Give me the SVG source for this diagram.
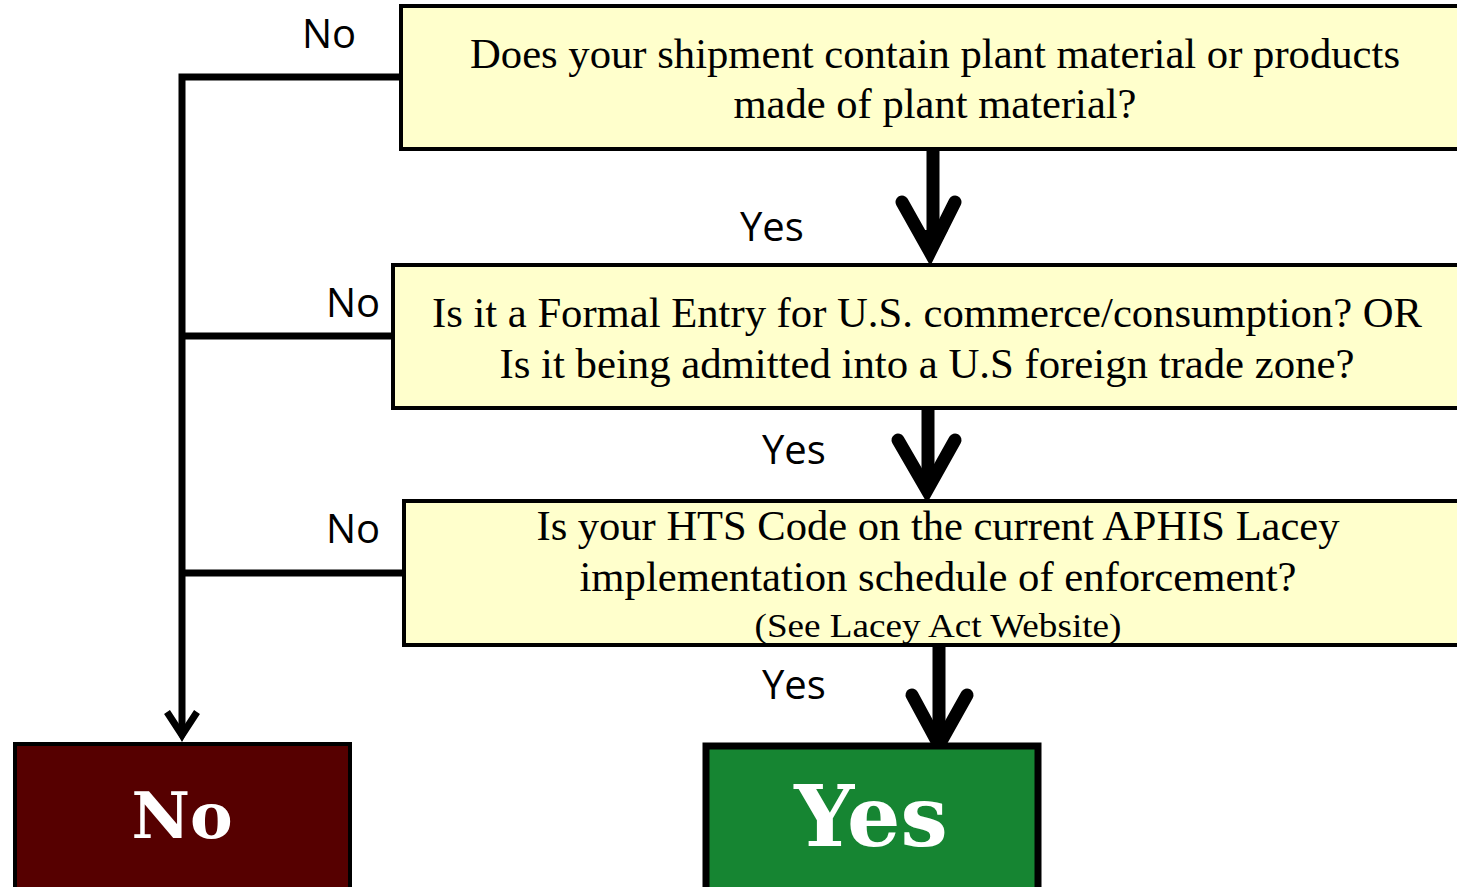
<svg xmlns="http://www.w3.org/2000/svg" width="1457" height="887" viewBox="0 0 1457 887">
<style>
.q{fill:#FFFFCC;stroke:#000;stroke-width:4}
.qt{font-family:"Liberation Serif","Times New Roman",serif;font-size:42px;fill:#000;text-anchor:middle}
.lbl{font-family:"Open Sans","Liberation Sans",sans-serif;font-size:40px;fill:#000}
.ln{fill:none;stroke:#000;stroke-width:7}
.big{fill:none;stroke:#000;stroke-width:13}
.head{fill:none;stroke:#000;stroke-width:13;stroke-linecap:round;stroke-linejoin:miter}
.res{font-family:"DejaVu Serif","Liberation Serif",serif;font-weight:bold;fill:#fff;text-anchor:middle}
</style>
<rect width="1457" height="887" fill="#fff"/>
<g id="connectors">
<path class="ln" d="M401 77 H182 V735"/>
<path class="ln" d="M182 336 H393"/>
<path class="ln" d="M182 573 H404"/>
<path class="ln" d="M167 712 L182 735 L197 712"/>
<path d="M176 730 L182 742 L188 730 Z" fill="#000"/>
<path class="big" d="M933 149 V235"/>
<path class="head" d="M902 202 L930 252 L955 202"/>
<path d="M912 230 L930 262 L948 230 Z" fill="#000"/>
<path class="big" d="M928 408 V470"/>
<path class="head" d="M898 440 L927 490 L955 440"/>
<path d="M910 470 L927 499 L944 470 Z" fill="#000"/>
<path class="big" d="M939 645 V725"/>
<path class="head" d="M912 695 L939 745 L967 695"/>
<path d="M922 722 L939 755 L956 722 Z" fill="#000"/>
</g>
<g id="labels">
<text class="lbl" x="302" y="48">No</text>
<text class="lbl" x="740" y="241">Yes</text>
<text class="lbl" x="326" y="317">No</text>
<text class="lbl" x="762" y="464">Yes</text>
<text class="lbl" x="326" y="543">No</text>
<text class="lbl" x="762" y="699">Yes</text>
</g>
<g id="q1">
<rect class="q" x="401" y="6" width="1070" height="143"/>
<text class="qt" x="935" y="68" textLength="930" lengthAdjust="spacingAndGlyphs">Does your shipment contain plant material or products</text>
<text class="qt" x="935" y="118" textLength="403" lengthAdjust="spacingAndGlyphs">made of plant material?</text>
</g>
<g id="q2">
<rect class="q" x="393" y="265" width="1080" height="143"/>
<text class="qt" x="927" y="327" textLength="990" lengthAdjust="spacingAndGlyphs">Is it a Formal Entry for U.S. commerce/consumption? OR</text>
<text class="qt" x="927" y="378" textLength="855" lengthAdjust="spacingAndGlyphs">Is it being admitted into a U.S foreign trade zone?</text>
</g>
<g id="q3">
<rect class="q" x="404" y="501" width="1070" height="144"/>
<text class="qt" x="938" y="540" textLength="803" lengthAdjust="spacingAndGlyphs">Is your HTS Code on the current APHIS Lacey</text>
<text class="qt" x="938" y="591" textLength="717" lengthAdjust="spacingAndGlyphs">implementation schedule of enforcement?</text>
<text class="qt" x="938" y="637" style="font-size:34px" textLength="367" lengthAdjust="spacingAndGlyphs">(See Lacey Act Website)</text>
</g>
<g id="no">
<rect x="15" y="744" width="335" height="150" fill="#560000" stroke="#000" stroke-width="4"/>
<text class="res" x="182" y="838" style="font-size:64px">No</text>
</g>
<g id="yes">
<rect x="706" y="746" width="332" height="150" fill="#168532" stroke="#000" stroke-width="7"/>
<text class="res" x="871" y="846" style="font-size:84px">Yes</text>
</g>
</svg>
